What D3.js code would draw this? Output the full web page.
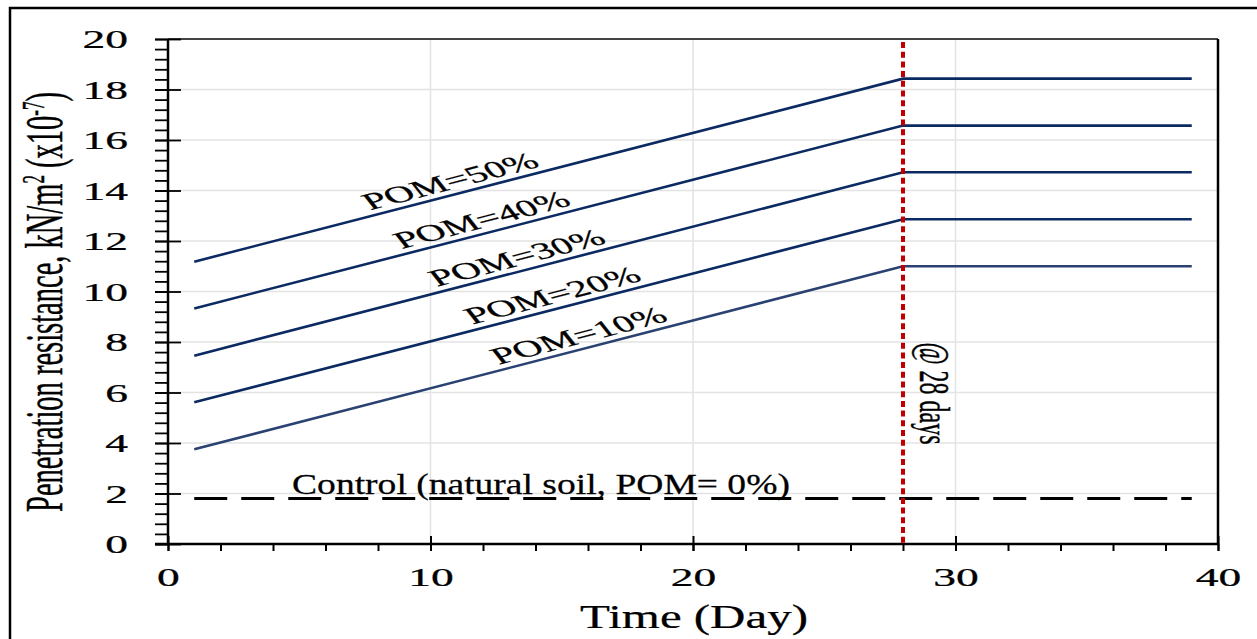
<!DOCTYPE html>
<html>
<head>
<meta charset="utf-8">
<script src="https://cdn.jsdelivr.net/npm/d3@7"></script>
<style>
  html, body { margin: 0; padding: 0; background: #fff; }
  svg { display: block; }
  text { font-family: "Liberation Serif", "Times New Roman", serif; fill: #000; stroke: #000; stroke-width: 0.25px; }
</style>
</head>
<body>
<svg id="chart" width="1257" height="639"></svg>
<script>
// ---------------- data ----------------
const days = [1, 28, 39];
const pom10 = [3.75, 11.0, 11.0];
const pom20 = [5.61, 12.86, 12.86];
const pom30 = [7.46, 14.72, 14.72];
const pom40 = [9.33, 16.57, 16.57];
const pom50 = [11.18, 18.43, 18.43];
const seriesNames = ["POM=10%", "POM=20%", "POM=30%", "POM=40%", "POM=50%"];
const labelDays = [12.6, 11.6, 10.25, 8.9, 7.7];
const controlDays = [1, 39];
const control = [1.8, 1.8];
const controlLabel = "Control (natural soil, POM= 0%)";
const markerDay = 28;
const markerLabel = "@ 28 days";
const xTicks = [0, 10, 20, 30, 40];
const yTicks = [0, 2, 4, 6, 8, 10, 12, 14, 16, 18, 20];
const xTitle = "Time (Day)";

// ---------------- layout ----------------
const svg = d3.select("#chart");
const SX = 1.75; // horizontal stretch of the original picture's text
const x = d3.scaleLinear().domain([0, 40]).range([168, 1218]);
const y = d3.scaleLinear().domain([0, 20]).range([544, 39]);

svg.append("rect").attr("width", 1257).attr("height", 639).attr("fill", "#fff");

// outer frame
svg.append("path").attr("d", "M10,639 L10,8 L1257,8")
  .attr("fill", "none").attr("stroke", "#000").attr("stroke-width", 2.5);

// gridlines
const grid = svg.append("g");
grid.selectAll("line.h").data(yTicks.filter(v => v > 0 && v < 20)).join("line")
  .attr("x1", x(0)).attr("x2", x(40)).attr("y1", d => y(d)).attr("y2", d => y(d))
  .attr("stroke", "#e3e3e3").attr("stroke-width", 1.5);
grid.selectAll("line.v").data(xTicks.filter(v => v > 0 && v < 40)).join("line")
  .attr("x1", d => x(d)).attr("x2", d => x(d)).attr("y1", y(0)).attr("y2", y(20))
  .attr("stroke", "#e3e3e3").attr("stroke-width", 1.5);

// plot frame: top (gray) and right (black)
svg.append("line").attr("x1", x(0)).attr("x2", x(40)).attr("y1", y(20)).attr("y2", y(20))
  .attr("stroke", "#444").attr("stroke-width", 2);
svg.append("line").attr("x1", x(40)).attr("x2", x(40)).attr("y1", y(20)).attr("y2", y(0))
  .attr("stroke", "#000").attr("stroke-width", 2.5);

// y axis minor ticks
const yMinor = d3.range(0, 20.001, 0.4).map(v => +v.toFixed(2));
const yMinorAxis = svg.append("g").attr("transform", `translate(${x(0)},0)`)
  .call(d3.axisLeft(y).tickValues(yMinor).tickSize(13).tickFormat(""));
yMinorAxis.select(".domain").remove();
yMinorAxis.selectAll(".tick line").attr("stroke", "#000").attr("stroke-width", 1.8);

// y axis major ticks (crossing) + labels
const yAxis = svg.append("g").attr("transform", `translate(${x(0)},0)`)
  .call(d3.axisLeft(y).tickValues(yTicks).tickSizeInner(13).tickSizeOuter(0));
yAxis.select(".domain").remove();
yAxis.selectAll(".tick line").attr("x1", 13).attr("x2", -13).attr("stroke", "#000").attr("stroke-width", 1.8);
yAxis.selectAll(".tick text")
  .attr("x", 0).attr("dy", "0.34em")
  .attr("transform", `translate(-40,0) scale(${SX},1)`)
  .attr("text-anchor", "end")
  .style("font-family", '"Liberation Serif", serif').style("font-size", "26px").attr("fill", "#000");

// x axis minor ticks
const xMinor = d3.range(0, 40.001, 2);
const xMinorAxis = svg.append("g").attr("transform", `translate(0,${y(0)})`)
  .call(d3.axisBottom(x).tickValues(xMinor).tickSize(7).tickFormat(""));
xMinorAxis.select(".domain").remove();
xMinorAxis.selectAll(".tick line").attr("stroke", "#000").attr("stroke-width", 2);

// x axis major ticks + labels
const xAxis = svg.append("g").attr("transform", `translate(0,${y(0)})`)
  .call(d3.axisBottom(x).tickValues(xTicks).tickSizeInner(7).tickSizeOuter(0));
xAxis.select(".domain").remove();
xAxis.selectAll(".tick line").attr("y1", -8).attr("y2", 7).attr("stroke", "#000").attr("stroke-width", 2);
xAxis.selectAll(".tick text")
  .attr("y", 0).attr("dy", 0)
  .attr("transform", `translate(0,42) scale(${SX},1)`)
  .attr("text-anchor", "middle")
  .style("font-family", '"Liberation Serif", serif').style("font-size", "26px").attr("fill", "#000");

// axis lines
svg.append("line").attr("x1", x(0)).attr("x2", x(0)).attr("y1", y(20)).attr("y2", y(0))
  .attr("stroke", "#000").attr("stroke-width", 2.5);
svg.append("line").attr("x1", x(0) - 13).attr("x2", x(40)).attr("y1", y(0)).attr("y2", y(0))
  .attr("stroke", "#000").attr("stroke-width", 2.5);

// series lines
const line = d3.line().x(d => x(d[0])).y(d => y(d[1]));
const allSeries = [pom10, pom20, pom30, pom40, pom50];
const colors = ["#2a4272", "#0c2a62", "#0c2a62", "#0c2a62", "#0c2a62"];
const lines = svg.append("g");
allSeries.forEach((vals, i) => {
  lines.append("path")
    .attr("d", line(days.map((d, j) => [d, vals[j]])))
    .attr("fill", "none").attr("stroke", colors[i]).attr("stroke-width", 2.6);
});

// control dashed line
svg.append("path")
  .attr("d", line(controlDays.map((d, j) => [d, control[j]])))
  .attr("fill", "none").attr("stroke", "#000").attr("stroke-width", 3)
  .attr("stroke-dasharray", "33,14");

// 28-day marker
svg.append("line")
  .attr("x1", x(markerDay)).attr("x2", x(markerDay)).attr("y1", y(20) + 3).attr("y2", y(0))
  .attr("stroke", "#c00000").attr("stroke-width", 4).attr("stroke-dasharray", "6,3.7");

// helper for stretched text
function stretched(parent, px, py, txt, size, sx, rot, anchor) {
  const g = parent.append("g").attr("transform", `translate(${px},${py}) scale(${sx},1) rotate(${rot})`);
  return g.append("text").attr("text-anchor", anchor).style("font-size", size + "px").text(txt);
}
function fitWidth(parent, cx, py, txt, size, width) {
  const g = parent.append("g");
  const t = g.append("text").attr("text-anchor", "middle").style("font-size", size + "px").text(txt);
  const w = t.node().getComputedTextLength();
  g.attr("transform", `translate(${cx},${py}) scale(${width / w},1)`);
  return t;
}

// series labels along lines
const labels = svg.append("g");
allSeries.forEach((vals, i) => {
  const d0 = labelDays[i];
  const v = vals[0] + (vals[1] - vals[0]) * (d0 - days[0]) / (days[1] - days[0]);
  const slope = (y(vals[1]) - y(vals[0])) / (x(days[1]) - x(days[0]));
  const theta = Math.atan(SX * Math.abs(slope)) * 180 / Math.PI;
  stretched(labels, x(d0), y(v) - 6, seriesNames[i], 23.5, SX, -theta, "start");
});

// control label
fitWidth(svg, 541, 494, controlLabel, 29, 498);

// marker label
stretched(svg, x(markerDay) + 17, 393.5, markerLabel, 24, SX, 90, "middle");

// x title
fitWidth(svg, 694, 628, xTitle, 34, 228);

// y title
const yt = stretched(svg, 62, 302, "", 28.5, 1.85, -90, "middle");
yt.append("tspan").text("Penetration resistance, kN/m");
yt.append("tspan").attr("dy", -10).style("font-size", "17px").text("2");
yt.append("tspan").attr("dy", 10).text(" (x10");
yt.append("tspan").attr("dy", -10).style("font-size", "17px").text("-7");
yt.append("tspan").attr("dy", 10).text(")");
</script>
</body>
</html>
